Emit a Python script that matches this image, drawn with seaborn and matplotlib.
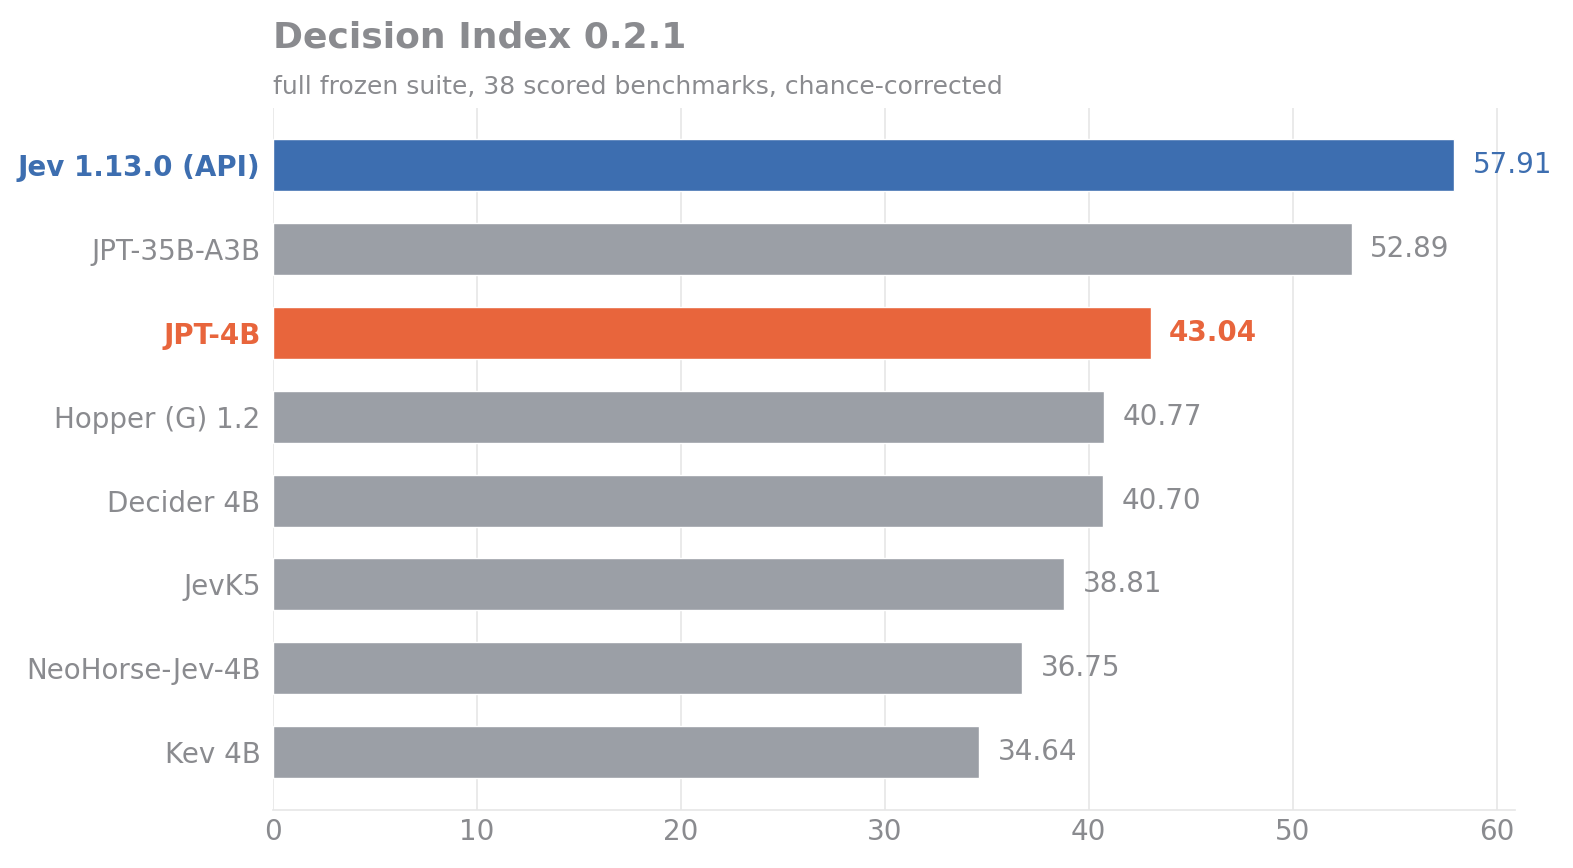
import matplotlib
matplotlib.use("Agg")
import matplotlib.pyplot as plt
import seaborn as sns
import pandas as pd

models = ["Jev 1.13.0 (API)", "JPT-35B-A3B", "JPT-4B", "Hopper (G) 1.2",
          "Decider 4B", "JevK5", "NeoHorse-Jev-4B", "Kev 4B"]
scores = [57.91, 52.89, 43.04, 40.77, 40.70, 38.81, 36.75, 34.64]
title = "Decision Index 0.2.1"
subtitle = "full frozen suite, 38 scored benchmarks, chance-corrected"
x_ticks = [0, 10, 20, 30, 40, 50, 60]

BLUE = "#3d6eb0"
ORANGE = "#e8653c"
GRAY = "#9b9fa6"
TEXT = "#8a8b8f"
GRID = "#e6e6e6"

colors = []
for m in models:
    if m == "Jev 1.13.0 (API)":
        colors.append(BLUE)
    elif m == "JPT-4B":
        colors.append(ORANGE)
    else:
        colors.append(GRAY)

df = pd.DataFrame({"model": models, "score": scores})

sns.set_theme(style="white")
plt.rcParams['font.family'] = ['DejaVu Sans']

fig = plt.figure(figsize=(15.73, 8.68), dpi=100)
ax = fig.add_axes([273/1573, 1 - 810/868, (1515-273)/1573, (810-108)/868])

sns.barplot(data=df, x="score", y="model", hue="model", palette=colors,
            legend=False, width=0.62, ax=ax, saturation=1)

ax.set_xlim(0, 60.9)
ax.set_ylim(7.69, -0.68)
ax.set_xticks(x_ticks)
ax.set_xlabel("")
ax.set_ylabel("")
ax.grid(axis="x", color=GRID, linewidth=1.2)
ax.set_axisbelow(True)
for s in ["top", "right", "left"]:
    ax.spines[s].set_visible(False)
ax.spines["bottom"].set_color(GRID)
ax.spines["bottom"].set_linewidth(1.2)
ax.tick_params(axis="both", length=0, labelsize=20, colors=TEXT)
ax.tick_params(axis="x", pad=6)
ax.tick_params(axis="y", pad=9)

for lbl, c in zip(ax.get_yticklabels(), colors):
    if c != GRAY:
        lbl.set_color(c)
        lbl.set_fontweight("bold")

for i, (v, c) in enumerate(zip(scores, colors)):
    ax.text(v + 0.9, i, f"{v:.2f}", va="center", ha="left", fontsize=20,
            color=(TEXT if c == GRAY else c),
            fontweight=("bold" if c == ORANGE else "normal"))

fig.text(273/1573, 1 - 38/868, title, fontsize=26, fontweight="bold",
         color=TEXT, ha="left", va="center")
fig.text(273/1573, 1 - 87/868, subtitle, fontsize=18, color=TEXT,
         ha="left", va="center")

fig.savefig("out.png", dpi=100)
